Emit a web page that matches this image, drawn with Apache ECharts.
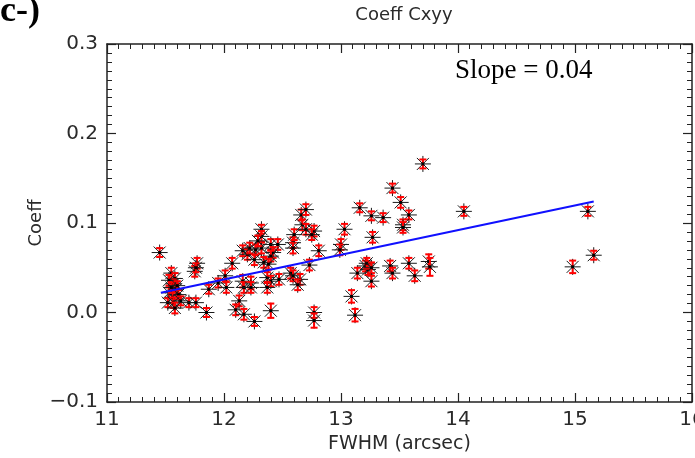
<!DOCTYPE html>
<html>
<head>
<meta charset="utf-8">
<script src="https://cdn.jsdelivr.net/npm/echarts@6/dist/echarts.min.js"></script>
<style>
  html, body { margin: 0; padding: 0; background: #fff; }
  #main { width: 695px; height: 458px; }
</style>
</head>
<body>
<div id="main"></div>
<script>
// values
var fwhm = [
  11.45, 11.55, 11.58, 11.57, 11.53, 11.59, 11.53, 11.61, 11.56, 11.52,
  11.57, 11.63, 11.58, 11.55, 11.60, 11.70, 11.76, 11.77, 11.75, 11.76,
  11.85, 11.87, 11.95, 12.01, 12.02, 12.07, 12.13, 12.10, 12.17, 12.26,
  12.40, 12.16, 12.23, 12.17, 12.23, 12.16, 12.20, 12.22, 12.27, 12.26,
  12.32, 12.32, 12.32, 12.29, 12.40, 12.46, 12.42, 12.40, 12.34, 12.38,
  12.37, 12.40, 12.37, 12.47, 12.57, 12.59, 12.65, 12.63, 12.59, 12.59,
  12.60, 12.66, 12.70, 12.67, 12.70, 12.77, 12.75, 12.81, 12.73, 12.77,
  12.77, 13.03, 13.00, 12.99, 13.16, 13.26, 13.36, 13.27, 13.44, 13.51,
  13.58, 13.53, 13.53, 13.70, 14.05, 13.14, 13.21, 13.23, 13.22, 13.26,
  13.26, 13.42, 13.44, 13.58, 13.63, 13.75, 13.76, 13.09, 13.12, 14.98,
  15.11, 15.16
];
var coeff = [
  0.067, 0.044, 0.038, 0.032, 0.036, 0.026, 0.022, 0.020, 0.017, 0.011,
  0.011, 0.013, 0.005, 0.028, 0.030, 0.011, 0.011, 0.055, 0.046, 0.050,
  0.000, 0.026, 0.033, 0.041, 0.028, 0.055, 0.013, 0.003, -0.002, -0.010,
  0.002, 0.035, 0.033, 0.028, 0.028, 0.069, 0.065, 0.072, 0.070, 0.059,
  0.072, 0.093, 0.085, 0.080, 0.076, 0.076, 0.067, 0.063, 0.056, 0.054,
  0.039, 0.035, 0.028, 0.037, 0.044, 0.041, 0.037, 0.031, 0.078, 0.072,
  0.087, 0.109, 0.115, 0.098, 0.093, 0.091, 0.087, 0.069, 0.053, 0.000,
  -0.009, 0.093, 0.076, 0.070, 0.117, 0.108, 0.106, 0.084, 0.139, 0.123,
  0.109, 0.098, 0.095, 0.166, 0.113, 0.044, 0.052, 0.048, 0.055, 0.050,
  0.035, 0.052, 0.044, 0.055, 0.041, 0.057, 0.051, 0.018, -0.003, 0.051,
  0.113, 0.064
];
var coeffErr = [
  0.005, 0.006, 0.006, 0.005, 0.006, 0.006, 0.006, 0.005, 0.006, 0.005,
  0.006, 0.005, 0.006, 0.006, 0.005, 0.005, 0.005, 0.006, 0.006, 0.005,
  0.005, 0.005, 0.005, 0.006, 0.006, 0.006, 0.006, 0.006, 0.006, 0.005,
  0.008, 0.007, 0.007, 0.006, 0.006, 0.006, 0.006, 0.006, 0.006, 0.006,
  0.006, 0.005, 0.006, 0.006, 0.006, 0.006, 0.006, 0.006, 0.006, 0.006,
  0.006, 0.006, 0.006, 0.006, 0.006, 0.006, 0.006, 0.006, 0.006, 0.006,
  0.006, 0.006, 0.006, 0.006, 0.006, 0.006, 0.006, 0.006, 0.006, 0.006,
  0.008, 0.006, 0.006, 0.006, 0.005, 0.005, 0.005, 0.006, 0.005, 0.006,
  0.005, 0.006, 0.006, 0.005, 0.005, 0.006, 0.006, 0.006, 0.006, 0.006,
  0.006, 0.006, 0.006, 0.006, 0.006, 0.008, 0.010, 0.007, 0.007, 0.007,
  0.005, 0.005
];
// linear fit drawn across the data range
var fitX = [11.46, 15.16];
var fitY = [0.022, 0.124];

var xTicks = [11, 12, 13, 14, 15, 16];
var yTicks = [-0.1, 0.0, 0.1, 0.2, 0.3];

var points = fwhm.map(function (x, i) { return [x, coeff[i], coeffErr[i]]; });
var fitLine = fitX.map(function (x, i) { return [x, fitY[i]]; });

var plotFont = 'DejaVu Sans, sans-serif';
var textColor = '#2a2a2a';
var axisColor = '#222';

var chart = echarts.init(document.getElementById('main'));

function axisCommon(show) {
  return {
    axisLine: { show: true, onZero: false, lineStyle: { color: axisColor, width: 1.5 } },
    axisTick: { show: true, inside: true, length: 9, lineStyle: { color: axisColor, width: 1.2 } },
    minorTick: { show: true, splitNumber: 10, length: 5, lineStyle: { color: axisColor, width: 1 } },
    splitLine: { show: false },
    axisLabel: { show: show }
  };
}

function renderPoint(params, api) {
  var x = api.value(0), y = api.value(1), e = api.value(2);
  var c = api.coord([x, y]);
  var top = api.coord([x, y + e])[1];
  var bot = api.coord([x, y - e])[1];
  var r = 8, d = 6, cap = 3.5;
  var black = { stroke: '#1a1a1a', lineWidth: 1 };
  var red = { stroke: '#ff0000', lineWidth: 2 };
  return {
    type: 'group',
    children: [
      { type: 'line', shape: { x1: c[0] - r, y1: c[1], x2: c[0] + r, y2: c[1] }, style: black },
      { type: 'line', shape: { x1: c[0], y1: c[1] - r, x2: c[0], y2: c[1] + r }, style: black },
      { type: 'line', shape: { x1: c[0] - d, y1: c[1] - d, x2: c[0] + d, y2: c[1] + d }, style: black },
      { type: 'line', shape: { x1: c[0] - d, y1: c[1] + d, x2: c[0] + d, y2: c[1] - d }, style: black },
      { type: 'line', shape: { x1: c[0], y1: top, x2: c[0], y2: bot }, style: red },
      { type: 'line', shape: { x1: c[0] - cap, y1: top, x2: c[0] + cap, y2: top }, style: red },
      { type: 'line', shape: { x1: c[0] - cap, y1: bot, x2: c[0] + cap, y2: bot }, style: red },
      { type: 'rect', shape: { x: c[0] - 1.5, y: c[1] - 1.5, width: 3, height: 3 }, style: { fill: '#000' } }
    ]
  };
}

var option = {
  backgroundColor: '#fff',
  animation: false,
  title: {
    text: 'Coeff Cxyy',
    left: 399,
    textAlign: 'center',
    top: 1,
    textStyle: { fontFamily: plotFont, fontWeight: 'normal', fontSize: 18, color: textColor }
  },
  graphic: [
    {
      type: 'text', left: 0, top: -6,
      style: { text: 'c-)', font: 'bold 36px "Liberation Serif", serif', fill: '#000' }
    },
    {
      type: 'text', left: 455, top: 57,
      style: { text: 'Slope = 0.04', font: '27px "Liberation Serif", serif', fill: '#000' }
    }
  ],
  grid: { left: 107, right: 3, top: 44, bottom: 56, outerBoundsMode: 'none' },
  xAxis: [
    Object.assign(axisCommon(true), {
      type: 'value', min: xTicks[0], max: xTicks[xTicks.length - 1], interval: 1,
      position: 'bottom',
      name: 'FWHM (arcsec)', nameLocation: 'middle', nameGap: 30,
      nameTextStyle: { fontFamily: plotFont, fontSize: 19, color: textColor },
      axisLabel: { show: true, margin: 8, fontFamily: plotFont, fontSize: 20, color: textColor,
        alignMaxLabel: 'center',
        formatter: function (v) { return String(v); } }
    }),
    Object.assign(axisCommon(false), {
      type: 'value', min: xTicks[0], max: xTicks[xTicks.length - 1], interval: 1, position: 'top'
    })
  ],
  yAxis: [
    Object.assign(axisCommon(true), {
      type: 'value', min: yTicks[0], max: yTicks[yTicks.length - 1], interval: 0.1,
      position: 'left',
      name: 'Coeff', nameLocation: 'middle', nameGap: 62, nameRotate: 90,
      nameMoveOverlap: false,
      nameTextStyle: { fontFamily: plotFont, fontSize: 18, color: textColor },
      axisLabel: { show: true, margin: 9, fontFamily: plotFont, fontSize: 20, color: textColor,
        formatter: function (v) {
          var s = Math.abs(v).toFixed(1);
          return v < -1e-9 ? '\u2212' + s : s;
        } }
    }),
    Object.assign(axisCommon(false), {
      type: 'value', min: yTicks[0], max: yTicks[yTicks.length - 1], interval: 0.1, position: 'right'
    })
  ],
  series: [
    {
      type: 'custom',
      renderItem: renderPoint,
      data: points,
      encode: { x: 0, y: 1 },
      clip: true,
      z: 3
    },
    {
      type: 'line',
      data: fitLine,
      symbol: 'none',
      lineStyle: { color: '#1010ff', width: 2 },
      z: 4
    }
  ]
};

chart.setOption(option);
</script>
</body>
</html>
